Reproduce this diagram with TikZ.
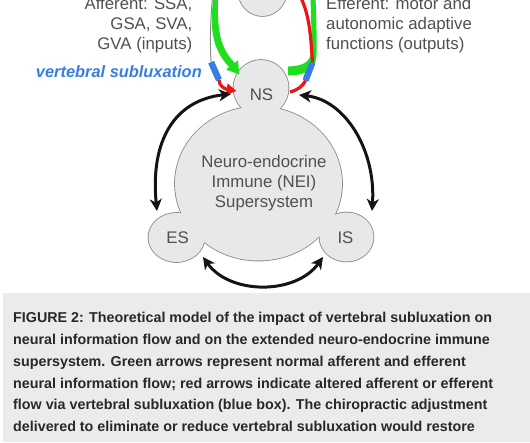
\documentclass[tikz,border=0pt]{standalone}
\usepackage{fontspec}
\setmainfont{Liberation Sans}
\usetikzlibrary{arrows.meta}
\definecolor{cfill}{RGB}{232,232,232}
\definecolor{cline}{RGB}{140,140,140}
\definecolor{ctext}{RGB}{80,80,80}
\definecolor{cgreen}{RGB}{30,222,30}
\definecolor{cred}{RGB}{232,22,22}
\definecolor{cblue}{RGB}{55,125,228}
\definecolor{capbg}{RGB}{235,235,235}
\definecolor{captext}{RGB}{40,40,40}
\definecolor{cblack}{RGB}{20,20,20}
\begin{document}
\begin{tikzpicture}[x=1pt,y=-1pt,
  outl/.style={draw=cline,line width=1.7pt},
  blobfill/.style={fill=cfill},
  lbl/.style={inner sep=0pt,text=ctext,font=\fontsize{16.8}{20}\selectfont},
  captxt/.style={inner sep=0pt,anchor=base west,text=captext,font=\fontsize{14.3}{21.8}\selectfont\bfseries},
  blk/.style={line width=3pt,draw=cblack,{Stealth[length=12pt,width=12pt,inset=3.5pt]}-{Stealth[length=12pt,width=12pt,inset=3.5pt]}},
  redl/.style={draw=cred,line width=3.2pt},
  vsbox/.style={fill=cblue,minimum width=6pt,minimum height=19pt,inner sep=0pt}]
\useasboundingbox (0,0) rectangle (530,442);
\clip (0,0) rectangle (530,442);
% caption background
\fill[capbg] (3,293) rectangle (530,442);
% circles: outlines then fills (union outline)
\draw[outl] (262.5,-10) ellipse [x radius=24.5, y radius=26];
\draw[outl] (261,88) ellipse [x radius=27.5, y radius=28];
\draw[outl] (258.5,183.5) ellipse [x radius=83.5, y radius=77];
\draw[outl] (176.5,237.5) ellipse [x radius=28, y radius=24.5];
\draw[outl] (346.5,237) ellipse [x radius=27, y radius=24.5];
\fill[blobfill] (262.5,-10) ellipse [x radius=24.5, y radius=26];
\fill[blobfill] (261,88) ellipse [x radius=27.5, y radius=28];
\fill[blobfill] (258.5,183.5) ellipse [x radius=83.5, y radius=77];
\fill[blobfill] (176.5,237.5) ellipse [x radius=28, y radius=24.5];
\fill[blobfill] (346.5,237) ellipse [x radius=27, y radius=24.5];
% labels in circles
\node[lbl,anchor=base] (ns) at (261.5,100) {NS};
\node[lbl,anchor=base] (nei1) at (264,167.3) {Neuro-endocrine};
\node[lbl,anchor=base] (nei2) at (264,187.3) {Immune (NEI)};
\node[lbl,anchor=base] (nei3) at (264,207.3) {Supersystem};
\node[lbl,anchor=base] (es) at (177.5,243.3) {ES};
\node[lbl,anchor=base] (is) at (345.5,243.3) {IS};
% side texts
\node[lbl,anchor=base east] (aff1) at (192.5,9) {Afferent: SSA,};
\node[lbl,anchor=base east] (aff2) at (192.5,29.3) {GSA, SVA,};
\node[lbl,anchor=base east] (aff3) at (192.5,49.7) {GVA (inputs)};
\node[lbl,anchor=base west] (eff1) at (326,9) {Efferent: motor and};
\node[lbl,anchor=base west] (eff2) at (326,29.3) {autonomic adaptive};
\node[lbl,anchor=base west] (eff3) at (326,49.7) {functions (outputs)};
\node[inner sep=0pt,anchor=base east,text=cblue,font=\fontsize{16.4}{20}\selectfont\bfseries\itshape] (vslbl) at (202,77.5) {vertebral subluxation};
% blue boxes
\node[vsbox,rotate=24] (vsL) at (215,71) {};
\node[vsbox,rotate=-21] (vsR) at (309,71.5) {};
% left afferent: gray line and red top piece
\draw[cline,line width=1pt] (212.5,-3) .. controls (210,25) and (210,45) .. (vsL.north);
\draw[cred,line width=2pt] (216.5,-3) -- (215.5,8);
% left green ribbon with head
\fill[cgreen] (213.5,-3) .. controls (209,30) and (213,50) .. (229.2,67.1) -- (226.1,69.6) -- (239.3,74.5) -- (237.9,60.4) -- (234.8,62.9) .. controls (220,48) and (217,30) .. (218,-3) -- cycle;
% right green ribbon
\fill[cgreen] (288,75.5) .. controls (305,75.5) and (316,70) .. (316.5,55) .. controls (317,35) and (316,10) .. (315.5,-3) -- (310.5,-3) .. controls (311,15) and (312,40) .. (311,52) .. controls (310,64) and (300,66) .. (288,66.5) -- cycle;
% red arrows
\coordinate (redTipL) at (236.5,91);
\draw[redl,-{Triangle[length=10pt,width=11pt]}] (vsL.south) .. controls (219,86) and (225,89) .. (redTipL);
\coordinate (redStartR) at (290,92);
\coordinate (redEndR) at (300,-4);
\draw[redl] (redStartR) .. controls (298,90) and (303,86) .. (vsR.south);
\draw[redl] (vsR.north) .. controls (311,40) and (310,15) .. (redEndR);
% redraw boxes on top
\node[vsbox,rotate=24] (vsL2) at (215,71) {};
\node[vsbox,rotate=-21] (vsR2) at (309,71.5) {};
% black arrows
\coordinate (nsL) at (231,94);
\coordinate (esT) at (157,211);
\coordinate (nsR) at (299,95);
\coordinate (isT) at (372,211);
\coordinate (esB) at (203,257);
\coordinate (isB) at (323,257);
\draw[blk] (nsL) .. controls (175,100) and (150,140) .. (esT);
\draw[blk] (nsR) .. controls (345,100) and (376,150) .. (isT);
\draw[blk] (esB) .. controls (230,295) and (296,295) .. (isB);
% caption
\node[captxt] (c1) at (13,322.7) {FIGURE 2: Theoretical model of the impact of vertebral subluxation on};
\node[captxt] (c2) at (13,344.5) {neural information flow and on the extended neuro-endocrine immune};
\node[captxt] (c3) at (13,366.3) {supersystem. Green arrows represent normal afferent and efferent};
\node[captxt] (c4) at (13,388.1) {neural information flow; red arrows indicate altered afferent or efferent};
\node[captxt] (c5) at (13,409.9) {flow via vertebral subluxation (blue box). The chiropractic adjustment};
\node[captxt] (c6) at (13,431.7) {delivered to eliminate or reduce vertebral subluxation would restore};
\end{tikzpicture}
\end{document}
